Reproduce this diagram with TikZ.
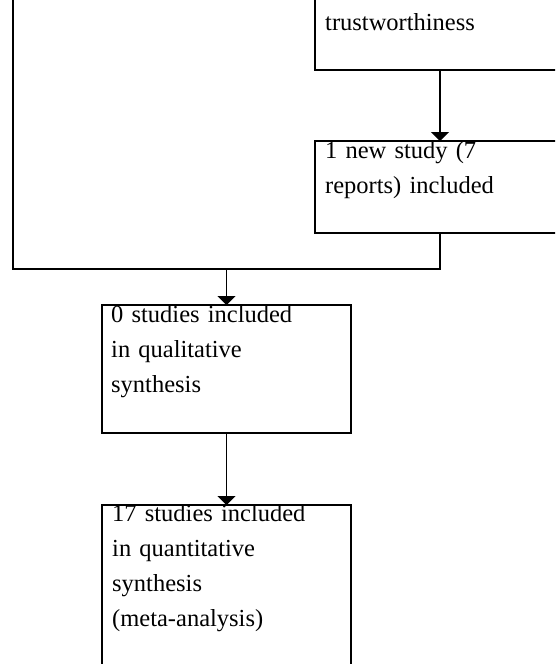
\documentclass[tikz,border=0pt]{standalone}
\usepackage{fontspec}
\setmainfont{Liberation Serif}
\usetikzlibrary{arrows.meta}
\begin{document}
\begin{tikzpicture}[x=1pt,y=1pt,
  box/.style={draw,line width=1.8pt,inner sep=0pt,outer sep=0pt,anchor=north west},
  txt/.style={anchor=base west,inner sep=0pt,text width=250pt,align=left,font=\fontsize{24.5}{35}\selectfont},
  arr/.style={line width=1.8pt,-{Triangle[width=18pt,length=9pt]}},
  con/.style={line width=1.8pt}]
\useasboundingbox (0,0) rectangle (555,-664);
\clip (0,0) rectangle (555,-664);
\node[box,minimum width=300pt,minimum height=120pt] (b1) at (315,50) {};
\node[box,minimum width=300pt,minimum height=92pt] (b2) at (315,-141) {};
\node[box,minimum width=249pt,minimum height=128pt] (b3) at (102,-305) {};
\node[box,minimum width=249pt,minimum height=200pt] (b4) at (102,-505) {};
\node[txt] (t1) at (325,-30) {trustworthiness};
\node[txt] (t2) at (325,-158) {1 new study (7\\reports) included};
\node[txt] (t3) at (111,-322) {0 studies included\\in qualitative\\synthesis};
\node[txt] (t4) at (112,-521) {17 studies included\\in quantitative\\synthesis\\(meta-analysis)};
\coordinate (lt) at (13,20);
\coordinate (jn) at (228,-269);
\draw[arr] ([xshift=125pt]b1.south west) -- ([xshift=125pt]b2.north west);
\draw[con] ([xshift=125pt]b2.south west) |- (lt |- jn) -- (lt);
\draw[arr] (b3.north |- jn) -- (b3.north);
\draw[arr] (b3.south) -- (b4.north);
\end{tikzpicture}
\end{document}
